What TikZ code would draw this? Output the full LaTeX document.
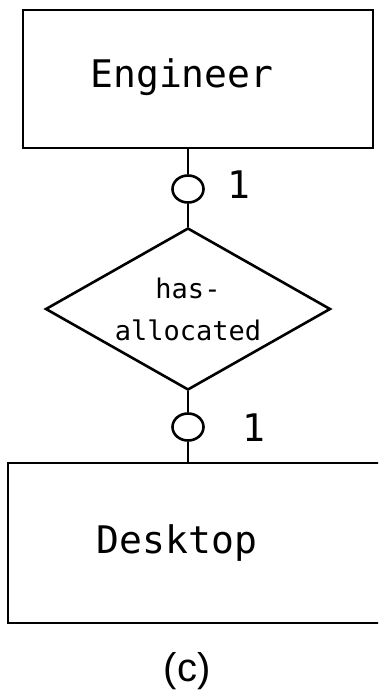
\documentclass[tikz,border=0pt]{standalone}
\usepackage{fontspec}
\newfontfamily\boxfont{DejaVu Sans Mono}
\newfontfamily\capfont{Liberation Sans}
\usetikzlibrary{shapes.geometric}

\begin{document}
\begin{tikzpicture}[x=1pt, y=-1pt, line width=2.6pt,
    entity/.style={draw, rectangle, inner sep=0pt},
    relship/.style={draw, diamond, aspect=2, inner sep=0pt, minimum width=285pt, minimum height=162pt,
        align=center, font=\boxfont\fontsize{27}{42}\selectfont},
    ring/.style={draw, ellipse, fill=white, inner sep=0pt, minimum width=31pt, minimum height=27pt},
    card/.style={font=\boxfont\fontsize{38}{40}\selectfont},
    entlabel/.style={font=\boxfont\fontsize{38}{40}\selectfont}]
    \useasboundingbox (0,0) rectangle (378,697);
    \clip (0,0) rectangle (378,697);
    % Entities
    \node[entity, minimum width=350pt, minimum height=138pt] (eng) at (198,79) {};
    \node[entlabel] (englbl) at (182,77) {Engineer};
    \node[entity, minimum width=390pt, minimum height=160pt] (desk) at (203,543) {};
    \node[entlabel] (desklbl) at (177,543) {Desktop};
    % Relationship
    \node[relship] (alloc) at (188,309) {has-\\allocated};
    % Cardinalities
    \node[ring] (ringtop) at (188,189) {};
    \node[ring] (ringbot) at (188,427) {};
    \node[card] (cardtop) at (239,185) {1};
    \node[card] (cardbot) at (254,428) {1};
    % Edges
    % Engineer to has-allocated
    \draw (eng.south -| ringtop) -- (ringtop) -- (alloc.north);
    % has-allocated to Desktop
    \draw (alloc.south) -- (ringbot) -- (ringbot |- desk.north);
    % Caption
    \node[font=\capfont\fontsize{40}{44}\selectfont] (caption) at (187,671) {(c)};
\end{tikzpicture}
\end{document}
